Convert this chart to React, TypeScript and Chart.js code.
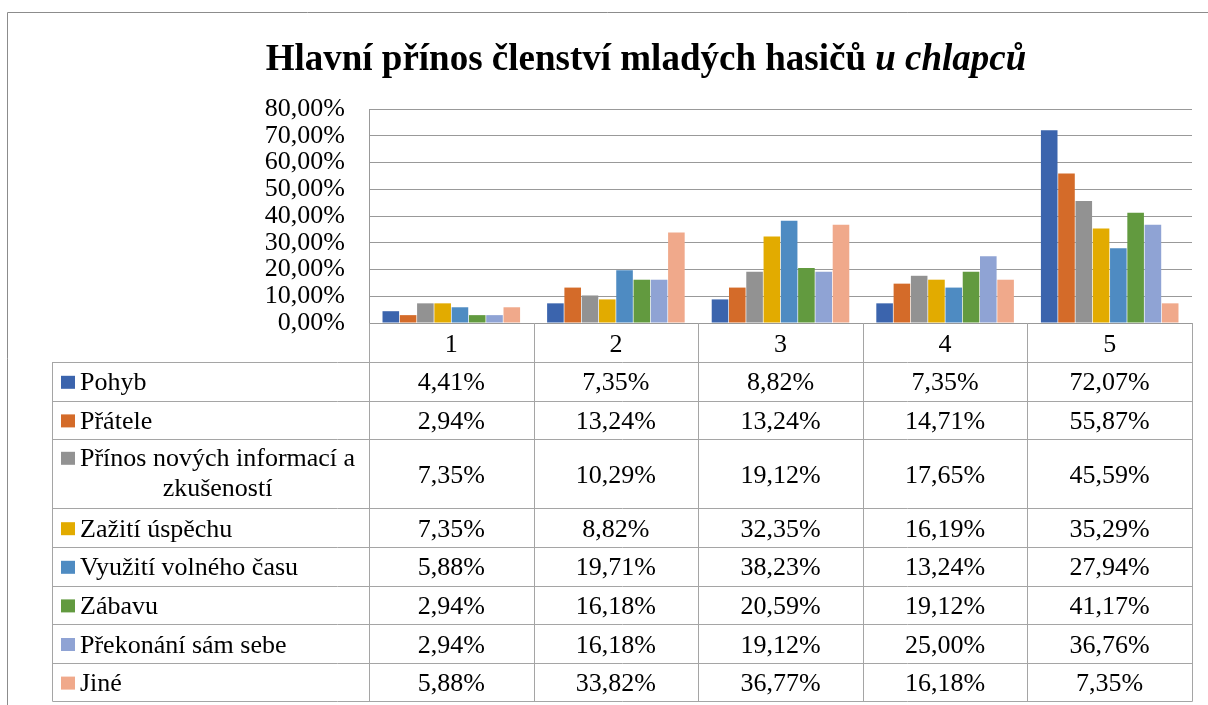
import React, { useEffect, useRef } from 'react';
import { Chart, registerables } from 'chart.js';

Chart.register(...registerables);

// ---- data ----
const categories = ['1', '2', '3', '4', '5'];
const seriesNames = [
  'Pohyb',
  'Přátele',
  'Přínos nových informací a zkušeností',
  'Zažití úspěchu',
  'Využití volného času',
  'Zábavu',
  'Překonání sám sebe',
  'Jiné',
];
const tableLabelLines = [
  ['Pohyb'],
  ['Přátele'],
  ['Přínos nových informací a', 'zkušeností'],
  ['Zažití úspěchu'],
  ['Využití volného času'],
  ['Zábavu'],
  ['Překonání sám sebe'],
  ['Jiné'],
];
const pohyb = [4.41, 7.35, 8.82, 7.35, 72.07];
const pratele = [2.94, 13.24, 13.24, 14.71, 55.87];
const prinos = [7.35, 10.29, 19.12, 17.65, 45.59];
const zaziti = [7.35, 8.82, 32.35, 16.19, 35.29];
const vyuziti = [5.88, 19.71, 38.23, 13.24, 27.94];
const zabavu = [2.94, 16.18, 20.59, 19.12, 41.17];
const prekonani = [2.94, 16.18, 19.12, 25.0, 36.76];
const jine = [5.88, 33.82, 36.77, 16.18, 7.35];
const seriesValues = [pohyb, pratele, prinos, zaziti, vyuziti, zabavu, prekonani, jine];
const seriesColors = ['#3B64AD', '#D46B29', '#929292', '#E2AB00', '#4E8BC2', '#629A3F', '#8FA3D4', '#F0A98B'];
const yMin = 0;
const yMax = 80;
const yStep = 10;
const titleMain = 'Hlavní přínos členství mladých hasičů ';
const titleItalic = 'u chlapců';

const FONT = "'Liberation Serif', 'Times New Roman', serif";

const fmt = (v: number) => v.toFixed(2).replace('.', ',') + '%';

const decorPlugin = {
  id: 'decor',
  beforeDraw(chart: any) {
    const ctx = chart.ctx;
    ctx.save();
    ctx.strokeStyle = '#8c8c8c';
    ctx.lineWidth = 1;
    ctx.beginPath();
    ctx.moveTo(7.5, chart.height);
    ctx.lineTo(7.5, 12.5);
    ctx.lineTo(chart.width, 12.5);
    ctx.stroke();
    ctx.restore();
  },
  afterDraw(chart: any) {
    const ctx = chart.ctx;
    const { left, right, bottom } = chart.chartArea;
    ctx.save();

    // title
    ctx.fillStyle = '#000';
    ctx.textBaseline = 'alphabetic';
    ctx.font = `bold 37px ${FONT}`;
    const w1 = ctx.measureText(titleMain).width;
    ctx.font = `italic bold 37px ${FONT}`;
    const w2 = ctx.measureText(titleItalic).width;
    const tx = 646 - (w1 + w2) / 2;
    ctx.font = `bold 37px ${FONT}`;
    ctx.textAlign = 'left';
    ctx.fillText(titleMain, tx, 70);
    ctx.font = `italic bold 37px ${FONT}`;
    ctx.fillText(titleItalic, tx + w1, 70);

    // data table
    const n = categories.length;
    const xs = chart.scales.x;
    const cw = (right - left) / n;
    const tableLeft = 52;
    const headerH = 39;
    const singleH = 38.6;
    const doubleH = 69.2;
    const rowHeights = tableLabelLines.map((l) => (l.length > 1 ? doubleH : singleH));
    const rowTops: number[] = [];
    let y = bottom + headerH;
    rowHeights.forEach((h) => {
      rowTops.push(y);
      y += h;
    });
    const tableBottom = y;
    const px = (v: number) => Math.round(v) + 0.5;

    ctx.strokeStyle = '#a5a5a5';
    ctx.lineWidth = 1;
    ctx.beginPath();
    // vertical lines
    for (let i = 0; i <= n; i++) {
      const x = px(left + i * cw);
      ctx.moveTo(x, bottom);
      ctx.lineTo(x, tableBottom);
    }
    ctx.moveTo(px(tableLeft), bottom + headerH);
    ctx.lineTo(px(tableLeft), tableBottom);
    // horizontal lines
    [...rowTops, tableBottom].forEach((ry) => {
      ctx.moveTo(px(tableLeft), px(ry));
      ctx.lineTo(px(right), px(ry));
    });
    ctx.stroke();

    ctx.font = `26px ${FONT}`;
    ctx.fillStyle = '#000';
    ctx.textAlign = 'center';
    // header
    categories.forEach((c, i) => {
      const cx = xs.getPixelForValue(i);
      ctx.fillText(c, cx, bottom + headerH / 2 + 9);
    });

    // rows
    seriesValues.forEach((vals, r) => {
      const top = rowTops[r];
      const h = rowHeights[r];
      const cy = top + h / 2;
      vals.forEach((v, i) => {
        const cx = xs.getPixelForValue(i);
        ctx.textAlign = 'center';
        ctx.fillText(fmt(v), cx, cy + 9);
      });
      const lines = tableLabelLines[r];
      const textX = 80;
      let firstBase: number;
      if (lines.length === 1) {
        firstBase = cy + 9;
        ctx.textAlign = 'left';
        ctx.fillText(lines[0], textX, firstBase);
      } else {
        firstBase = cy + 9 - 16.5;
        ctx.textAlign = 'left';
        ctx.fillText(lines[0], textX, firstBase);
        const lineW = ctx.measureText(lines[0]).width;
        ctx.textAlign = 'center';
        ctx.fillText(lines[1], textX + lineW / 2, firstBase + 30);
      }
      ctx.fillStyle = seriesColors[r];
      ctx.fillRect(61, firstBase - 14.5, 14, 13);
      ctx.fillStyle = '#000';
    });

    ctx.restore();
  },
};

export default function App() {
  const ref = useRef<HTMLCanvasElement | null>(null);

  useEffect(() => {
    if (!ref.current) return;
    const chart = new Chart(ref.current, {
      type: 'bar',
      data: {
        labels: categories,
        datasets: seriesNames.map((name, i) => ({
          label: name,
          data: seriesValues[i],
          backgroundColor: seriesColors[i],
          borderWidth: 0,
          categoryPercentage: 0.84,
          barPercentage: 0.96,
        })),
      },
      options: {
        responsive: false,
        animation: false,
        devicePixelRatio: 1,
        layout: { padding: { left: 0, top: 109, right: 16, bottom: 382 } },
        plugins: {
          legend: { display: false },
          tooltip: { enabled: false },
          title: { display: false },
        },
        scales: {
          x: { display: false },
          y: {
            min: yMin,
            max: yMax,
            afterFit: (scale: any) => {
              scale.width = 369;
            },
            ticks: {
              stepSize: yStep,
              autoSkip: false,
              padding: 24,
              color: '#000',
              font: { family: FONT, size: 26, lineHeight: 1 },
              callback: (v: any) => fmt(Number(v)),
            },
            grid: { color: '#999999', lineWidth: 1, drawTicks: false },
            border: { display: true, color: '#999999', width: 1 },
          },
        },
      },
      plugins: [decorPlugin],
    });
    return () => chart.destroy();
  }, []);

  return (
    <div style={{ position: 'fixed', left: 0, top: 0, width: 1208, height: 705, background: '#fff' }}>
      <canvas ref={ref} width={1208} height={705} style={{ width: 1208, height: 705, display: 'block' }} />
    </div>
  );
}
